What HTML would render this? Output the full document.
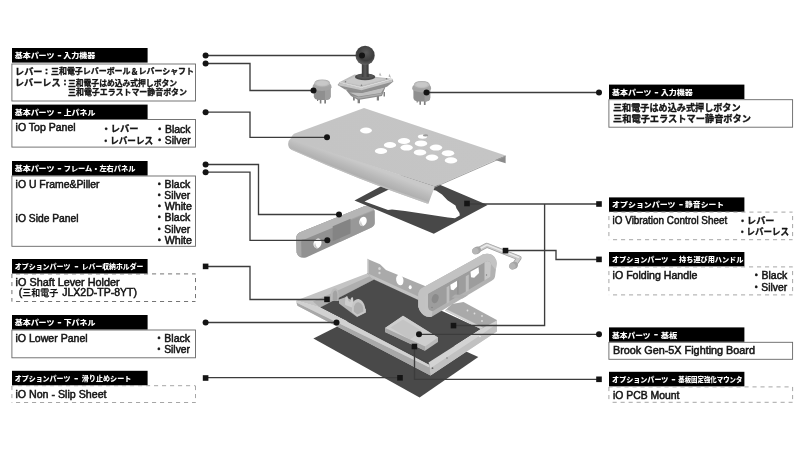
<!DOCTYPE html>
<html lang="ja">
<head>
<meta charset="utf-8">
<title>iO Parts</title>
<style>
html,body{margin:0;padding:0;background:#fff;}
body{width:800px;height:450px;overflow:hidden;}
svg{display:block;filter:grayscale(1) blur(0.4px);font-family:"Liberation Sans","Noto Sans CJK JP",sans-serif;}
</style>
</head>
<body>
<svg width="800" height="450" viewBox="0 0 800 450">
<rect width="800" height="450" fill="#fff"/>

<defs>
  <linearGradient id="gRoll" gradientUnits="userSpaceOnUse" x1="360" y1="163" x2="353.500" y2="180">
    <stop offset="0" stop-color="#c8c9c9"/>
    <stop offset="0.4" stop-color="#b8b9b9"/>
    <stop offset="0.85" stop-color="#a9aaaa"/>
    <stop offset="1" stop-color="#b4b5b5"/>
  </linearGradient>
  <linearGradient id="gTop" gradientUnits="userSpaceOnUse" x1="300" y1="140" x2="500" y2="150">
    <stop offset="0" stop-color="#c3c4c4"/>
    <stop offset="1" stop-color="#c4c5c5"/>
  </linearGradient>
  <radialGradient id="gBall" cx="0.55" cy="0.35" r="0.7">
    <stop offset="0" stop-color="#5a5a5a"/>
    <stop offset="0.6" stop-color="#3c3c3c"/>
    <stop offset="1" stop-color="#6a6a6a"/>
  </radialGradient>
  <linearGradient id="gShaft" x1="0" y1="0" x2="1" y2="0">
    <stop offset="0" stop-color="#3a3a3a"/>
    <stop offset="0.5" stop-color="#5a5a5a"/>
    <stop offset="1" stop-color="#333"/>
  </linearGradient>
</defs>
<g stroke="none">

<!-- non-slip sheet -->
<polygon points="313.4,338.5 372,309 478.3,357 419.6,397.5" fill="#494949"/>

<!-- tray: back wall -->
<polygon points="367,258.800 380,264.200 386,270 425,286 425,303.500 374,279.600 367,274" fill="#a9aaaa"/>
<polygon points="367.500,273.200 425,299.400 425,303.500 374,279.600" fill="#c1c2c2"/>
<polygon points="367,258.8 368.5,259.5 368.5,273.6 367,273" fill="#d4d4d4"/>
<ellipse cx="399.8" cy="280" rx="3.6" ry="5.4" fill="#fff" transform="rotate(-12 399.8 280)"/>
<ellipse cx="410.2" cy="287.2" rx="1.5" ry="2" fill="#fff"/>
<ellipse cx="379.5" cy="268.5" rx="1.3" ry="1.6" fill="#d8d8d8"/>
<ellipse cx="379.5" cy="273" rx="1.1" ry="1.3" fill="#d8d8d8"/>

<!-- tray: back-left rim -->
<polygon points="296.300,300.600 367,273.500 374,279.400 320,307.500" fill="#c3c4c4"/>
<polygon points="313,301.500 369.500,276.200 374,279.400 320,307.500" fill="#aeafaf"/>
<!-- tray floor (dark vibration sheet) -->
<polygon points="320,307.500 374,279.400 481,329 428.500,362.500" fill="#4b4b4b"/>
<!-- tray: right-back wall inner face -->
<polygon points="445,310.6 452,304 463.5,302 496.8,320 496.8,331.5 481,329" fill="#a8a9a9"/>
<polygon points="445,310.6 447,309.4 483,327.6 481,329" fill="#d2d2d2"/>
<circle cx="467.5" cy="310.5" r="0.9" fill="#ddd"/><circle cx="474.5" cy="313.5" r="0.9" fill="#ddd"/>
<circle cx="482" cy="316" r="0.9" fill="#ddd"/><circle cx="482" cy="321" r="0.9" fill="#ddd"/>
<!-- tray: front-right rim -->
<polygon points="481,329 496.800,320.500 496.800,331.500 430.500,375.600 429.400,365 428.500,362.500" fill="#d2d3d3"/>
<polygon points="483,333.500 496.800,324 496.800,331.500 430.500,375.600 430,368.500" fill="#c0c1c1"/>
<circle cx="432.5" cy="368.2" r="0.9" fill="#666"/><circle cx="447" cy="358" r="0.8" fill="#777"/><circle cx="480" cy="336.500" r="0.8" fill="#eee"/>
<!-- tray: front-left rim -->
<polygon points="296.3,300.6 320,307.5 429.4,365 430.5,375.6 297.5,305.8" fill="#c6c7c7"/>
<polygon points="296.3,302.6 429.6,367.6 430.5,375.6 297.5,305.8" fill="#a7a8a8"/>
<polygon points="296.3,300.6 320,307.5 429.4,365 429.6,367.6 296.3,302.6" fill="#d0d1d1"/>

<!-- lever holder -->
<path d="M330.800,300.500 L331,292.500 Q332.500,287.600 335.600,288.200 Q338.400,289.500 338.600,294 L338.800,301 Z" fill="#b9baba"/>
<path d="M332.600,300 L332.800,293.500 Q333.800,290.200 335.800,290.600 Q337.400,291.400 337.400,294.600 L337.400,300.400 Z" fill="#a2a3a3"/>
<polygon points="339,299.500 346,297 366,309 366,312.500 357,317 339,303.500" fill="#b6b7b7"/>
<path d="M345,303 L345.400,297.600 Q346.200,295.600 347.600,296.400 L348.400,301 L350.400,302 L350.800,298.600 Q351.800,296.600 353,297.600 L353.600,303.500 L353.400,308 L345.200,305 Z" fill="#cdcece"/>
<path d="M351.800,312 L352.200,305 Q354,298.600 358.600,299 Q363.600,300.400 365,307 L365.400,312.400 L357.400,316.600 Z" fill="#c6c7c7"/>
<path d="M353.800,311.600 L354,306.500 Q355.400,302 358.600,302.200 Q362,303 363.200,307.600 L363.400,311.600 L357.400,314.600 Z" fill="#adaeae"/>

<!-- PCB -->
<polygon points="385,328 403,315.8 438,337.5 438,342 425,350.8 385,332" fill="#b9baba"/>
<polygon points="385,328 403,315.8 438,337.5 425,346.4" fill="#cdcece"/>
<polygon points="390.5,327.6 403,319.4 422,331 410,339.4" fill="#c3c4c4"/>
<polygon points="385,328 425,346.4 425,350.8 385,332" fill="#a6a7a7"/>

<!-- right side panel -->
<path d="M421.700,288.300 L483.300,254.200 Q490.500,252.600 494.200,256.700 Q496.600,259.500 496.700,263.300 L495,276.700 Q494.500,279.500 491.700,280.800 L431.700,316.700 Q424,318.500 419.500,310 L418.300,306.700 L418.300,295 Q418.500,290.500 421.700,288.300 Z" fill="#b1b2b2"/>
<path d="M428,293.800 L487,261 Q490.500,261 491,264 L490.500,276.800 L432.500,311.200 Q428.500,311 428,307 Z" fill="#9c9d9d"/>
<path d="M484.500,262.400 L487,261 Q490.500,261 491,264 L490.500,276.800 L484.500,280.400 Z" fill="#c6c7c7"/>
<path d="M421.700,288.300 L483.300,254.200 Q490.500,252.600 494.200,256.700 Q496.600,259.500 496.700,263.300 L495.800,270 L491,264 Q490.500,261 487,261 L428,293.800 L428,307 Q428.500,311 432.500,311.200 L431.700,316.700 Q424,318.500 419.500,310 L418.300,306.700 L418.300,295 Q418.500,290.500 421.700,288.300 Z" fill="#c2c3c3"/>
<path d="M421.700,288.300 L483.300,254.200 Q490.500,252.600 494.200,256.700 L430,291.500 Q425,294 424.500,299 L424.800,314.800 Q420.500,312.500 419.500,310 L418.300,306.700 L418.300,295 Q418.500,290.500 421.700,288.300 Z" fill="#c0c1c1" opacity="0.6"/>
<ellipse cx="435.200" cy="298.600" rx="3.300" ry="4.600" fill="#898a8a" transform="rotate(18 435.200 298.600)"/>
<path d="M450.300,284.800 L457.200,280.800 L457.600,286 L453.400,290.200 L450.800,289.400 Z" fill="#fff"/>
<path d="M470.500,271.800 L478.600,267.300 L479,273 L474.200,277.800 L471,277.200 Z" fill="#fff"/>
<path d="M446.600,287.200 L449.400,285.600 L449.400,302.200 L446.600,303.800 Z" fill="#bcbdbd"/>
<path d="M465.800,276.200 L468.800,274.500 L468.800,290.600 L465.800,292.300 Z" fill="#bcbdbd"/>
<path d="M457.200,281 L458.600,280.200 L458.600,296.300 L457.200,297.100 Z" fill="#8f9090"/>
<path d="M455,294.600 L468,295.200 L462.500,298.600 L451.500,297.400 Z" fill="#adaeae"/>
<circle cx="432" cy="307.500" r="0.700" fill="#7d7e7e"/><circle cx="486.500" cy="275" r="0.700" fill="#7d7e7e"/>

<!-- handle -->
<path d="M478,250 L486.800,245.200 L519,258 L514.500,264.500" fill="none" stroke="#9fa0a0" stroke-width="5" stroke-linejoin="round" stroke-linecap="round"/>
<path d="M478,250 L486.800,245.200 L519,258 L514.500,264.500" fill="none" stroke="#c9caca" stroke-width="3.600" stroke-linejoin="round" stroke-linecap="round"/>
<path d="M480,248.600 L487,244.800 L518.500,257.300" fill="none" stroke="#ececec" stroke-width="1.400" stroke-linejoin="round" stroke-linecap="round"/>
<ellipse cx="476.600" cy="250.400" rx="4.600" ry="3.700" fill="#a3a4a4" transform="rotate(-28 476.600 250.400)"/>
<ellipse cx="475.300" cy="251.100" rx="3.300" ry="3.100" fill="#b4b5b5" transform="rotate(-28 475.300 251.100)"/>
<ellipse cx="513.600" cy="265.600" rx="4.600" ry="3.700" fill="#a3a4a4" transform="rotate(-28 513.600 265.600)"/>
<ellipse cx="512.300" cy="266.300" rx="3.300" ry="3.100" fill="#b4b5b5" transform="rotate(-28 512.300 266.300)"/>

<!-- left side panel -->
<path d="M299.600,232.400 L364.400,206.200 Q372.500,204.500 374.600,211.500 L374.700,223 Q374.500,226 371,227.800 L306,257.600 Q298.500,259 296.600,252.500 L296.200,238 Q296.400,234 299.600,232.400 Z" fill="#909191"/>
<path d="M299.600,232.400 L364.400,206.200 Q369.500,205 373,207.600 L305.500,236.300 Q301.500,238 301.200,242 L301.500,256.800 Q297.500,256 296.600,252.500 L296.200,238 Q296.400,234 299.600,232.400 Z" fill="#a6a7a7"/>
<path d="M299.600,232.400 L364.400,206.200 Q371.500,204.600 374.300,210.400 L305.500,239 Q299,239.500 296.500,242 L296.200,238 Q296.600,234.500 299.600,232.400 Z" fill="#b4b5b5"/>
<path d="M340,223.500 L374.600,209.500 L374.700,223 Q374.500,226 371,227.800 L340,242 Z" fill="#9a9b9b" opacity="0.7"/>
<path d="M332.700,226.200 L350.500,218.800 L350.500,233.400 L332.700,241.300 Z" fill="#838484"/>
<ellipse cx="317.500" cy="243.400" rx="3.900" ry="4.900" fill="#fff" transform="rotate(22 317.500 243.400)"/>
<ellipse cx="363" cy="221.400" rx="3.600" ry="4.700" fill="#fff" transform="rotate(22 363 221.400)"/>
<path d="M314.200,246 Q314.800,249 318,248.300 Q315.500,246.500 315,242.500 Z" fill="#c9caca"/>
<path d="M360,224 Q360.600,226.800 363.500,226.100 Q361.300,224.500 360.800,220.500 Z" fill="#c9caca"/>

<!-- vibration sheet frame -->
<path fill-rule="evenodd" fill="#484848" d="M354.500,200.400 L408.700,171.600 L487.500,205 L433.800,233.800 Z M364.500,201.500 L400,184 L436,190.500 L442,194.500 L447.500,200.300 L455.500,205.500 L456.500,208.500 L459.500,213 L459.800,215.500 L455,218.200 L448,217.600 L425,214 L405,211 L392,209.500 L388,210 Z"/>

<!-- top panel -->
<path d="M290.500,138.500 L435,186.500 Q431.500,195 428.500,203.400 L427,203.600 Q359.500,180.300 291.500,149.800 Q288.200,148 288.100,144 Q288.200,140.500 290.500,138.500 Z" fill="url(#gRoll)"/>
<path d="M291.500,149.800 Q359.500,180.300 427,203.600 L428.500,203.400 L428.800,202.300 Q359.500,179 291,148.600 Z" fill="#c4c5c5" opacity="0.700"/>
<polygon points="493.500,159.600 505.600,155.600 505.600,163.200" fill="#8a8b8b"/>
<path d="M364,108 L505.600,155.600 L435,186.500 L290.500,139.500 Q291,136 294,133.800 Z" fill="url(#gTop)"/>
<path d="M505.600,156.200 L435,187" stroke="#9a9b9b" stroke-width="0.9" fill="none"/>
<g fill="#fff">
<ellipse cx="366" cy="130.5" rx="6" ry="2.900"/>
<ellipse cx="404" cy="141" rx="6.2" ry="3"/>
<ellipse cx="421" cy="143.400" rx="6.200" ry="3"/>
<ellipse cx="390" cy="145" rx="6.2" ry="3"/>
<ellipse cx="406.600" cy="147.600" rx="6.200" ry="3"/>
<ellipse cx="436" cy="147.6" rx="6.2" ry="3"/>
<ellipse cx="381" cy="151" rx="6.200" ry="3"/>
<ellipse cx="420" cy="152.400" rx="6.200" ry="3"/>
<ellipse cx="448" cy="153.2" rx="6.2" ry="3"/>
<ellipse cx="432" cy="157.6" rx="6.2" ry="3.1"/>
<ellipse cx="451" cy="160.4" rx="6.200" ry="3.100"/>
<ellipse cx="422.5" cy="136.600" rx="4.6" ry="2.2"/>
</g>
<ellipse cx="425.500" cy="135.4" rx="2.600" ry="1.1" fill="#9a9b9b"/>

<!-- joystick -->
<g>
<path d="M357.600,98 L357.600,103.300 L360,103.300 L360,98 Z M376.800,96 L376.800,100.600 L379,100.600 L379,95 Z M353,97 L353,100.500 L354.800,100.500 L354.800,97 Z M383.500,92 L383.500,96.500 L385,96.500 L385,92 Z" fill="#7f8180"/>
<polygon points="346,90 351,96 358,100 382,96 386.500,84 362,90" fill="#8a8c8b"/>
<polygon points="349.500,92.600 358.500,96.600 381,93 384.500,87.500 362,93" fill="#bdbfbe"/>
<polygon points="352,95.600 358.500,98.800 381,95 382.300,93.200 358.500,97.200" fill="#a9abaa"/>
<polygon points="337.600,85 339.800,82 361.300,87.600 392.600,79.200 393.400,81.500 387,86.800 362,92.600 345,89.600" fill="#8e908f"/>
<polygon points="338.200,85.300 361.500,90.200 392.400,81.700 392.600,79.500 361.300,88 339.600,83" fill="#c3c5c4"/>
<polygon points="339.800,82.100 354.400,74.600 392.600,78.700 361.300,87.200" fill="#bcbebd"/>
<polygon points="343.500,82 355.500,76 386,79 361,85.600" fill="#c8cac9"/>
<polygon points="339.800,82.100 361.300,87.200 392.600,78.700 392.600,79.600 361.300,88.300 339.800,83" fill="#dcdddd"/>
<circle cx="345.500" cy="81.800" r="0.800" fill="#7a7c7b"/><circle cx="361.500" cy="85.300" r="0.800" fill="#7a7c7b"/><circle cx="386.500" cy="78.800" r="0.800" fill="#7a7c7b"/>
<path d="M388.500,76.500 L389.500,73.800 L391,77.800 Z M379,75.300 L380,72.500 L381.500,76 Z" fill="#b4b6b5"/>
<ellipse cx="365.100" cy="76.900" rx="10.200" ry="3.300" fill="#474747"/>
<ellipse cx="365.100" cy="76.300" rx="8.500" ry="2.500" fill="#555"/>
<rect x="361.800" y="62" width="6.800" height="15" fill="url(#gShaft)"/>
<circle cx="365.100" cy="55.400" r="9.600" fill="url(#gBall)"/>
</g>

<!-- left button -->
<g>
<path d="M319.800,99 L319.800,103.400 L321.400,103.400 L321.400,99 Z M324.300,99 L324.300,103.600 L326,103.600 L326,99 Z M317,98 L317,101 L318.200,101 L318.200,98 Z" fill="#7d807e"/>
<path d="M313.800,87 L330.600,87 L330.600,96.500 Q330.400,99.500 326.500,100 L318.500,100 Q314.200,99.500 313.800,96.500 Z" fill="#8b908d"/>
<path d="M325,87 L330.600,87 L330.600,96.500 Q330.400,99.500 326.500,100 L325,100 Z" fill="#9a9f9c"/>
<path d="M312.600,87.200 Q312.600,84 315.200,83.400 L329.200,83.400 Q331.500,84 331.500,87.200 Q331.400,90.400 322,91 Q312.600,90.400 312.600,87.200 Z" fill="#a0a5a2"/>
<path d="M314.300,83.400 Q314.400,79.700 322.200,79.500 Q330,79.700 330.100,83.400 L330.100,86 Q322.200,89.200 314.300,86 Z" fill="#a5aaa7"/>
<ellipse cx="322.200" cy="83.300" rx="7.600" ry="3.200" fill="#bcc0bd"/>
<ellipse cx="322.200" cy="83.100" rx="5.800" ry="2.300" fill="#c5c9c6"/>
</g>
<g transform="translate(99.600 1.400)">
<path d="M319.800,99 L319.800,103.400 L321.400,103.400 L321.400,99 Z M324.300,99 L324.300,103.600 L326,103.600 L326,99 Z M317,98 L317,101 L318.200,101 L318.200,98 Z" fill="#7d807e"/>
<path d="M313.800,87 L330.600,87 L330.600,96.500 Q330.400,99.500 326.500,100 L318.500,100 Q314.200,99.500 313.800,96.500 Z" fill="#8b908d"/>
<path d="M325,87 L330.600,87 L330.600,96.500 Q330.400,99.500 326.500,100 L325,100 Z" fill="#9a9f9c"/>
<path d="M312.600,87.200 Q312.600,84 315.200,83.400 L329.200,83.400 Q331.500,84 331.500,87.200 Q331.400,90.400 322,91 Q312.600,90.400 312.600,87.200 Z" fill="#a0a5a2"/>
<path d="M314.300,83.400 Q314.400,79.700 322.200,79.500 Q330,79.700 330.100,83.400 L330.100,86 Q322.200,89.200 314.300,86 Z" fill="#a5aaa7"/>
<ellipse cx="322.200" cy="83.300" rx="7.600" ry="3.200" fill="#bcc0bd"/>
<ellipse cx="322.200" cy="83.100" rx="5.800" ry="2.300" fill="#c5c9c6"/>
</g>
</g>

<g fill="none" stroke="#3c3c3c" stroke-width="1.35">
<path d="M205.6 55.5H362"/>
<path d="M205.6 63.5H250V90.5H313.5"/>
<path d="M205.6 112.1H250V137.3H327"/>
<path d="M205.6 164.5H258.5V214.5H339"/>
<path d="M205.6 172.1H250V240.3H327"/>
<path d="M205.6 266.5H250V299.5H327"/>
<path d="M205.6 322.5H336.5"/>
<path d="M205.6 377.6H400"/>
<path d="M426.5 92.5H599"/>
<path d="M467 204H599"/>
<path d="M544.6 204V325.5H453.5"/>
<path d="M505.5 250.5H556V259.5H599"/>
<path d="M419 334.4H599"/>
<path d="M414.5 346.5V379.4H599"/>
</g>
<g fill="#141414">
<circle cx="205.6" cy="55.4" r="3"/>
<circle cx="205.6" cy="63.6" r="3"/>
<circle cx="205.6" cy="112.2" r="3"/>
<circle cx="205.6" cy="164.4" r="3"/>
<circle cx="205.6" cy="172.2" r="3"/>
<circle cx="205.6" cy="322.4" r="3"/>
<circle cx="313.5" cy="90.4" r="3"/>
<circle cx="327" cy="137.2" r="3"/>
<circle cx="339" cy="214.4" r="3"/>
<circle cx="327.3" cy="240.2" r="3"/>
<circle cx="336.5" cy="322.4" r="3"/>
<circle cx="426.5" cy="92.5" r="3"/>
<circle cx="599" cy="92.5" r="3"/>
<circle cx="419" cy="334.3" r="3"/>
<circle cx="599" cy="334.3" r="3"/>
<circle cx="362" cy="55.4" r="3"/>
<rect x="202.80" y="263.60" width="5.6" height="5.6"/>
<rect x="202.80" y="375.20" width="5.6" height="5.6"/>
<rect x="324.20" y="296.60" width="5.6" height="5.6"/>
<rect x="397.20" y="375.00" width="5.6" height="5.6"/>
<rect x="596.20" y="201.20" width="5.6" height="5.6"/>
<rect x="596.20" y="256.60" width="5.6" height="5.6"/>
<rect x="596.20" y="376.50" width="5.6" height="5.6"/>
<rect x="464.20" y="200.70" width="5.6" height="5.6"/>
<rect x="502.70" y="247.80" width="5.6" height="5.6"/>
<rect x="450.70" y="322.80" width="5.6" height="5.6"/>
<rect x="411.60" y="343.70" width="5.6" height="5.6"/>
</g>
<rect x="12" y="48" width="135.6" height="14.6" fill="#000"/>
<text x="14.7" y="58.35" font-size="7.2" font-weight="900" fill="#fff" textLength="39.7" lengthAdjust="spacingAndGlyphs">基本パーツ</text>
<text x="57.6" y="58.15" font-size="8.5" font-weight="700" fill="#fff" stroke="#fff" stroke-width="0.2" textLength="4" lengthAdjust="spacingAndGlyphs">-</text>
<text x="63.300000000000004" y="58.35" font-size="7.2" font-weight="900" fill="#fff" textLength="32.1" lengthAdjust="spacingAndGlyphs">入力機器</text>
<rect x="11.9" y="64.0" width="183.6" height="37" fill="#fff" stroke="#666" stroke-width="0.9"/>
<text x="15" y="74.6" font-size="9" font-weight="700" fill="#141414" stroke="#141414" stroke-width="0.32" textLength="27.5" lengthAdjust="spacingAndGlyphs">レバー</text>
<text x="45" y="74.4" font-size="9" font-weight="700" fill="#141414" stroke="#141414" stroke-width="0.5">:</text>
<text x="51" y="74.4" font-size="8" font-weight="700" fill="#141414" stroke="#141414" stroke-width="0.32" textLength="143" lengthAdjust="spacingAndGlyphs">三和電子レバーボール＆レバーシャフト</text>
<text x="15" y="85.6" font-size="9" font-weight="700" fill="#141414" stroke="#141414" stroke-width="0.32" textLength="45.5" lengthAdjust="spacingAndGlyphs">レバーレス</text>
<text x="63.5" y="85.4" font-size="9" font-weight="700" fill="#141414" stroke="#141414" stroke-width="0.5">:</text>
<text x="68" y="85.5" font-size="8" font-weight="700" fill="#141414" stroke="#141414" stroke-width="0.32" textLength="109" lengthAdjust="spacingAndGlyphs">三和電子はめ込み式押しボタン</text>
<text x="68" y="95.3" font-size="8" font-weight="700" fill="#141414" stroke="#141414" stroke-width="0.32" textLength="119" lengthAdjust="spacingAndGlyphs">三和電子エラストマー静音ボタン</text>
<rect x="12" y="104.6" width="135.6" height="14.6" fill="#000"/>
<text x="14.7" y="114.95" font-size="7.2" font-weight="900" fill="#fff" textLength="39.7" lengthAdjust="spacingAndGlyphs">基本パーツ</text>
<text x="57.6" y="114.75" font-size="8.5" font-weight="700" fill="#fff" stroke="#fff" stroke-width="0.2" textLength="4" lengthAdjust="spacingAndGlyphs">-</text>
<text x="63.7" y="114.95" font-size="7.2" font-weight="900" fill="#fff" textLength="31.7" lengthAdjust="spacingAndGlyphs">上パネル</text>
<rect x="11.9" y="119.5" width="183.6" height="27.6" fill="#fff" stroke="#666" stroke-width="0.9"/>
<text x="15.6" y="131.4" font-size="10.4" font-weight="400" fill="#141414" stroke="#141414" stroke-width="0.5" textLength="60" lengthAdjust="spacingAndGlyphs">iO Top Panel</text>
<text x="101.6" y="132.4" font-size="9" font-weight="700" fill="#141414" stroke="#141414" stroke-width="0.32" textLength="37" lengthAdjust="spacingAndGlyphs">・レバー</text>
<text x="101.6" y="143.9" font-size="9" font-weight="700" fill="#141414" stroke="#141414" stroke-width="0.32" textLength="51.5" lengthAdjust="spacingAndGlyphs">・レバーレス</text>
<text x="154.4" y="132.6" font-size="10.4" font-weight="400" fill="#141414" stroke="#141414" stroke-width="0.5" textLength="36.2" lengthAdjust="spacingAndGlyphs">・Black</text>
<text x="154.4" y="143.8" font-size="10.4" font-weight="400" fill="#141414" stroke="#141414" stroke-width="0.5" textLength="36.2" lengthAdjust="spacingAndGlyphs">・Silver</text>
<rect x="12" y="161" width="135.6" height="14.6" fill="#000"/>
<text x="14.7" y="171.35" font-size="7.2" font-weight="900" fill="#fff" textLength="39.7" lengthAdjust="spacingAndGlyphs">基本パーツ</text>
<text x="57.6" y="171.15" font-size="8.5" font-weight="700" fill="#fff" stroke="#fff" stroke-width="0.2" textLength="4" lengthAdjust="spacingAndGlyphs">-</text>
<text x="63.7" y="171.35" font-size="7.2" font-weight="900" fill="#fff" textLength="71.7" lengthAdjust="spacingAndGlyphs">フレーム・左右パネル</text>
<rect x="11.9" y="176.0" width="183.6" height="70.3" fill="#fff" stroke="#666" stroke-width="0.9"/>
<text x="15.6" y="187.6" font-size="10.4" font-weight="400" fill="#141414" stroke="#141414" stroke-width="0.5" textLength="84" lengthAdjust="spacingAndGlyphs">iO U Frame&amp;Piller</text>
<text x="15.6" y="221.5" font-size="10.4" font-weight="400" fill="#141414" stroke="#141414" stroke-width="0.5" textLength="63" lengthAdjust="spacingAndGlyphs">iO Side Panel</text>
<text x="154" y="187.8" font-size="10.4" font-weight="400" fill="#141414" stroke="#141414" stroke-width="0.5" textLength="36.2" lengthAdjust="spacingAndGlyphs">・Black</text>
<text x="154" y="199.0" font-size="10.4" font-weight="400" fill="#141414" stroke="#141414" stroke-width="0.5" textLength="36.2" lengthAdjust="spacingAndGlyphs">・Silver</text>
<text x="154" y="210.2" font-size="10.4" font-weight="400" fill="#141414" stroke="#141414" stroke-width="0.5" textLength="38" lengthAdjust="spacingAndGlyphs">・White</text>
<text x="154" y="221.4" font-size="10.4" font-weight="400" fill="#141414" stroke="#141414" stroke-width="0.5" textLength="36.2" lengthAdjust="spacingAndGlyphs">・Black</text>
<text x="154" y="232.6" font-size="10.4" font-weight="400" fill="#141414" stroke="#141414" stroke-width="0.5" textLength="36.2" lengthAdjust="spacingAndGlyphs">・Silver</text>
<text x="154" y="243.8" font-size="10.4" font-weight="400" fill="#141414" stroke="#141414" stroke-width="0.5" textLength="38" lengthAdjust="spacingAndGlyphs">・White</text>
<rect x="12" y="259" width="135.6" height="14.6" fill="#000"/>
<text x="14.7" y="269.35" font-size="7.2" font-weight="900" fill="#fff" textLength="55.7" lengthAdjust="spacingAndGlyphs">オプションパーツ</text>
<text x="74.6" y="269.15" font-size="8.5" font-weight="700" fill="#fff" stroke="#fff" stroke-width="0.2" textLength="4" lengthAdjust="spacingAndGlyphs">-</text>
<text x="81.7" y="269.35" font-size="7.2" font-weight="900" fill="#fff" textLength="61.7" lengthAdjust="spacingAndGlyphs">レバー収納ホルダー</text>
<rect x="11.9" y="273.9" width="183.60" height="27.60" fill="#fff"/>
<g fill="none" stroke="#5c5c5c" stroke-width="0.85" stroke-dasharray="4.1 3.9">
<path d="M11.9 273.9H195.5" stroke-dashoffset="3.90"/>
<path d="M11.9 301.5H195.5" stroke-dashoffset="3.90"/>
<path d="M11.9 273.9V301.5" stroke-dashoffset="7.90"/>
<path d="M195.5 273.9V301.5" stroke-dashoffset="3.90"/>
</g>
<text x="15.6" y="285.7" font-size="10.4" font-weight="400" fill="#141414" stroke="#141414" stroke-width="0.5" textLength="104" lengthAdjust="spacingAndGlyphs">iO Shaft Lever Holder</text>
<text x="18.8" y="296.4" font-size="10.4" font-weight="400" fill="#141414" stroke="#141414" stroke-width="0.5">(</text>
<text x="22.3" y="295.8" font-size="9" font-weight="700" fill="#141414" stroke="#141414" stroke-width="0.1" textLength="36" lengthAdjust="spacingAndGlyphs">三和電子</text>
<text x="62.3" y="296.4" font-size="10.4" font-weight="400" fill="#141414" stroke="#141414" stroke-width="0.5" textLength="74.6" lengthAdjust="spacingAndGlyphs">JLX2D-TP-8YT)</text>
<rect x="12" y="315" width="135.6" height="14.6" fill="#000"/>
<text x="14.7" y="325.35" font-size="7.2" font-weight="900" fill="#fff" textLength="39.7" lengthAdjust="spacingAndGlyphs">基本パーツ</text>
<text x="57.6" y="325.15" font-size="8.5" font-weight="700" fill="#fff" stroke="#fff" stroke-width="0.2" textLength="4" lengthAdjust="spacingAndGlyphs">-</text>
<text x="63.7" y="325.35" font-size="7.2" font-weight="900" fill="#fff" textLength="31.7" lengthAdjust="spacingAndGlyphs">下パネル</text>
<rect x="11.9" y="330.0" width="183.6" height="27.8" fill="#fff" stroke="#666" stroke-width="0.9"/>
<text x="15.4" y="341.8" font-size="10.4" font-weight="400" fill="#141414" stroke="#141414" stroke-width="0.5" textLength="72.3" lengthAdjust="spacingAndGlyphs">iO Lower Panel</text>
<text x="153.8" y="342.2" font-size="10.4" font-weight="400" fill="#141414" stroke="#141414" stroke-width="0.5" textLength="36.2" lengthAdjust="spacingAndGlyphs">・Black</text>
<text x="153.8" y="353.4" font-size="10.4" font-weight="400" fill="#141414" stroke="#141414" stroke-width="0.5" textLength="36.2" lengthAdjust="spacingAndGlyphs">・Silver</text>
<rect x="12" y="370.8" width="135.6" height="14.6" fill="#000"/>
<text x="14.7" y="381.15" font-size="7.2" font-weight="900" fill="#fff" textLength="55.7" lengthAdjust="spacingAndGlyphs">オプションパーツ</text>
<text x="74.19999999999999" y="380.95" font-size="8.5" font-weight="700" fill="#fff" stroke="#fff" stroke-width="0.2" textLength="4" lengthAdjust="spacingAndGlyphs">-</text>
<text x="81.7" y="381.15" font-size="7.2" font-weight="900" fill="#fff" textLength="49.7" lengthAdjust="spacingAndGlyphs">滑り止めシート</text>
<rect x="11.9" y="385.7" width="183.60" height="16.80" fill="#fff"/>
<g fill="none" stroke="#969696" stroke-width="0.85" stroke-dasharray="4.1 3.9">
<path d="M11.9 385.7H195.5" stroke-dashoffset="1.90"/>
<path d="M11.9 402.5H195.5" stroke-dashoffset="3.90"/>
<path d="M11.9 385.7V402.5" stroke-dashoffset="7.70"/>
<path d="M195.5 385.7V402.5" stroke-dashoffset="7.70"/>
</g>
<text x="15.4" y="397.8" font-size="10.4" font-weight="400" fill="#141414" stroke="#141414" stroke-width="0.5" textLength="91.2" lengthAdjust="spacingAndGlyphs">iO Non - Slip Sheet</text>
<rect x="609" y="84.6" width="135.4" height="14.4" fill="#000"/>
<text x="612.1" y="94.85" font-size="7.2" font-weight="900" fill="#fff" textLength="39.3" lengthAdjust="spacingAndGlyphs">基本パーツ</text>
<text x="654.6" y="94.65" font-size="8.5" font-weight="700" fill="#fff" stroke="#fff" stroke-width="0.2" textLength="4" lengthAdjust="spacingAndGlyphs">-</text>
<text x="660.7" y="94.85" font-size="7.2" font-weight="900" fill="#fff" textLength="32.1" lengthAdjust="spacingAndGlyphs">入力機器</text>
<rect x="608.9" y="99.7" width="183.7" height="27.5" fill="#fff" stroke="#666" stroke-width="0.9"/>
<text x="613" y="110.8" font-size="9.2" font-weight="700" fill="#141414" stroke="#141414" stroke-width="0.32" textLength="127.6" lengthAdjust="spacingAndGlyphs">三和電子はめ込み式押しボタン</text>
<text x="613" y="121.6" font-size="9.2" font-weight="700" fill="#141414" stroke="#141414" stroke-width="0.32" textLength="138" lengthAdjust="spacingAndGlyphs">三和電子エラストマー静音ボタン</text>
<rect x="609" y="197.4" width="135.4" height="14.4" fill="#000"/>
<text x="612.1" y="206.75" font-size="7.2" font-weight="900" fill="#fff" textLength="63.3" lengthAdjust="spacingAndGlyphs">オプションパーツ</text>
<text x="679.0" y="206.55" font-size="8.5" font-weight="700" fill="#fff" stroke="#fff" stroke-width="0.2" textLength="4" lengthAdjust="spacingAndGlyphs">-</text>
<text x="685.1" y="206.75" font-size="7.2" font-weight="900" fill="#fff" textLength="38.9" lengthAdjust="spacingAndGlyphs">静音シート</text>
<rect x="608.9" y="212.1" width="183.70" height="27.60" fill="#fff"/>
<g fill="none" stroke="#969696" stroke-width="0.85" stroke-dasharray="4.1 3.9">
<path d="M608.9 212.1H792.6" stroke-dashoffset="3.50"/>
<path d="M608.9 239.7H792.6" stroke-dashoffset="3.90"/>
<path d="M608.9 212.1V239.7" stroke-dashoffset="4.10"/>
<path d="M792.6 212.1V239.7" stroke-dashoffset="4.10"/>
</g>
<text x="612.6" y="224.4" font-size="10.4" font-weight="400" fill="#141414" stroke="#141414" stroke-width="0.5" textLength="114.6" lengthAdjust="spacingAndGlyphs">iO Vibration Control Sheet</text>
<text x="738" y="223.6" font-size="9" font-weight="700" fill="#141414" stroke="#141414" stroke-width="0.32" textLength="36.5" lengthAdjust="spacingAndGlyphs">・レバー</text>
<text x="738" y="234.9" font-size="9" font-weight="700" fill="#141414" stroke="#141414" stroke-width="0.32" textLength="51" lengthAdjust="spacingAndGlyphs">・レバーレス</text>
<rect x="609" y="252" width="135.4" height="14.4" fill="#000"/>
<text x="612.1" y="262.25" font-size="7.2" font-weight="900" fill="#fff" textLength="56.3" lengthAdjust="spacingAndGlyphs">オプションパーツ</text>
<text x="672.0" y="262.05" font-size="8.5" font-weight="700" fill="#fff" stroke="#fff" stroke-width="0.2" textLength="4" lengthAdjust="spacingAndGlyphs">-</text>
<text x="679.1" y="262.25" font-size="7.2" font-weight="900" fill="#fff" textLength="64.3" lengthAdjust="spacingAndGlyphs">持ち運び用ハンドル</text>
<rect x="608.9" y="266.9" width="183.70" height="28.00" fill="#fff"/>
<g fill="none" stroke="#969696" stroke-width="0.85" stroke-dasharray="4.1 3.9">
<path d="M608.9 266.9H792.6" stroke-dashoffset="3.90"/>
<path d="M608.9 294.9H792.6" stroke-dashoffset="3.90"/>
<path d="M608.9 266.9V294.9" stroke-dashoffset="3.90"/>
<path d="M792.6 266.9V294.9" stroke-dashoffset="3.90"/>
</g>
<text x="612.6" y="279.2" font-size="10.4" font-weight="400" fill="#141414" stroke="#141414" stroke-width="0.5" textLength="84.8" lengthAdjust="spacingAndGlyphs">iO Folding Handle</text>
<text x="751" y="279.4" font-size="10.4" font-weight="400" fill="#141414" stroke="#141414" stroke-width="0.5" textLength="36.2" lengthAdjust="spacingAndGlyphs">・Black</text>
<text x="751" y="290.7" font-size="10.4" font-weight="400" fill="#141414" stroke="#141414" stroke-width="0.5" textLength="36.2" lengthAdjust="spacingAndGlyphs">・Silver</text>
<rect x="609" y="327.4" width="135.4" height="14.4" fill="#000"/>
<text x="612.1" y="337.65" font-size="7.2" font-weight="900" fill="#fff" textLength="38.3" lengthAdjust="spacingAndGlyphs">基本パーツ</text>
<text x="654.0" y="337.45" font-size="8.5" font-weight="700" fill="#fff" stroke="#fff" stroke-width="0.2" textLength="4" lengthAdjust="spacingAndGlyphs">-</text>
<text x="660.7" y="337.65" font-size="7.2" font-weight="900" fill="#fff" textLength="16.7" lengthAdjust="spacingAndGlyphs">基板</text>
<rect x="608.9" y="342.3" width="183.7" height="17" fill="#fff" stroke="#666" stroke-width="0.9"/>
<text x="613" y="353.9" font-size="10.4" font-weight="400" fill="#141414" stroke="#141414" stroke-width="0.5" textLength="142" lengthAdjust="spacingAndGlyphs">Brook Gen-5X Fighting Board</text>
<rect x="609" y="371.8" width="135.4" height="14.6" fill="#000"/>
<text x="612.1" y="382.15" font-size="7.2" font-weight="900" fill="#fff" textLength="56.3" lengthAdjust="spacingAndGlyphs">オプションパーツ</text>
<text x="671.6" y="381.95" font-size="8.5" font-weight="700" fill="#fff" stroke="#fff" stroke-width="0.2" textLength="4" lengthAdjust="spacingAndGlyphs">-</text>
<text x="678.3000000000001" y="382.15" font-size="7.2" font-weight="900" fill="#fff" textLength="64.1" lengthAdjust="spacingAndGlyphs">基板固定強化マウンタ</text>
<rect x="608.9" y="386.9" width="183.70" height="15.40" fill="#fff"/>
<g fill="none" stroke="#969696" stroke-width="0.85" stroke-dasharray="4.1 3.9">
<path d="M608.9 386.9H792.6" stroke-dashoffset="0.40"/>
<path d="M608.9 402.29999999999995H792.6" stroke-dashoffset="4.30"/>
<path d="M608.9 386.9V402.29999999999995" stroke-dashoffset="7.90"/>
<path d="M792.6 386.9V402.29999999999995" stroke-dashoffset="7.90"/>
</g>
<text x="613" y="398.6" font-size="10.4" font-weight="400" fill="#141414" stroke="#141414" stroke-width="0.5" textLength="66.4" lengthAdjust="spacingAndGlyphs">iO PCB Mount</text>
</svg>
</body>
</html>
